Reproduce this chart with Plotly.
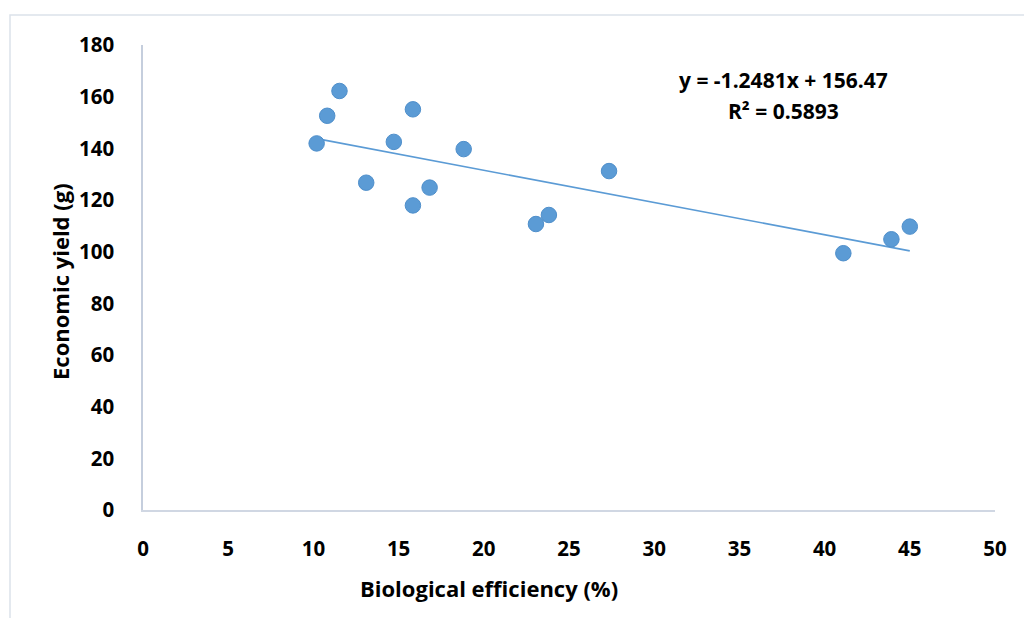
import plotly.graph_objects as go
import numpy as np

bio_eff = [10.19, 10.81, 11.53, 13.10, 14.72, 15.84, 15.84, 16.82, 18.82,
           23.06, 23.82, 27.35, 41.10, 43.92, 45.00]
econ_yield = [141.9, 152.6, 162.2, 126.7, 142.5, 155.1, 117.9, 124.8, 139.7,
              110.7, 114.2, 131.2, 99.4, 104.8, 109.7]
slope = -1.2481
intercept = 156.47
r2 = 0.5893
x_ticks = [0, 5, 10, 15, 20, 25, 30, 35, 40, 45, 50]
y_ticks = [0, 20, 40, 60, 80, 100, 120, 140, 160, 180]
x_title = "Biological efficiency (%)"
y_title = "Economic yield (g)"

W, H = 1024, 618
L, R, T, B = 143, 29, 45, 108
pw, ph = W - L - R, H - T - B

def px(x):
    return (x - L) / pw

def py(y):
    return (H - B - y) / ph

blue = "#5B9BD5"
font_family = "Open Sans, Lato, sans-serif"

fig = go.Figure()
xt = np.array([min(bio_eff), max(bio_eff)])
fig.add_trace(go.Scatter(x=xt, y=slope * xt + intercept, mode="lines",
                         line=dict(color=blue, width=1.6), hoverinfo="skip",
                         showlegend=False))
fig.add_trace(go.Scatter(x=bio_eff, y=econ_yield, mode="markers",
                         marker=dict(size=15.5, color=blue,
                                     line=dict(color="#4F8FCB", width=1)),
                         showlegend=False))

fig.update_layout(
    width=W, height=H,
    margin=dict(l=L, r=R, t=T, b=B, pad=0),
    paper_bgcolor="white", plot_bgcolor="white",
    font=dict(family=font_family, color="black", size=20),
    xaxis=dict(range=[0, 50], tickvals=x_ticks, showgrid=False, zeroline=False,
               showline=True, linecolor="#D0D7E3", linewidth=1.5,
               ticks="", ticklabelstandoff=20,
               tickfont=dict(size=20.5, family=font_family, weight="bold")),
    yaxis=dict(range=[0, 180], tickvals=y_ticks, showgrid=False, zeroline=False,
               showline=True, linecolor="#C5CEDD", linewidth=1.5,
               ticks="", ticklabelstandoff=23,
               tickfont=dict(size=20.5, family=font_family, weight="bold")),
    shapes=[dict(type="rect", xref="paper", yref="paper",
                 x0=px(10), x1=px(1040), y0=py(650), y1=py(15),
                 line=dict(color="#DCE2EA", width=1.5), fillcolor="rgba(0,0,0,0)",
                 layer="below")],
    annotations=[
        dict(xref="paper", yref="paper", x=px(783), y=py(80),
             text=f"<b>y = {slope}x + {intercept}</b>", showarrow=False,
             font=dict(size=21), xanchor="center", yanchor="middle"),
        dict(xref="paper", yref="paper", x=px(783), y=py(111),
             text=f"<b>R² = {r2}</b>", showarrow=False,
             font=dict(size=21), xanchor="center", yanchor="middle"),
        dict(xref="paper", yref="paper", x=px(489), y=py(588),
             text=f"<b>{x_title}</b>", showarrow=False,
             font=dict(size=22), xanchor="center", yanchor="middle"),
        dict(xref="paper", yref="paper", x=px(60), y=py(282),
             text=f"<b>{y_title}</b>", showarrow=False, textangle=-90,
             font=dict(size=22), xanchor="center", yanchor="middle"),
    ],
)

fig.write_html("out.html")
